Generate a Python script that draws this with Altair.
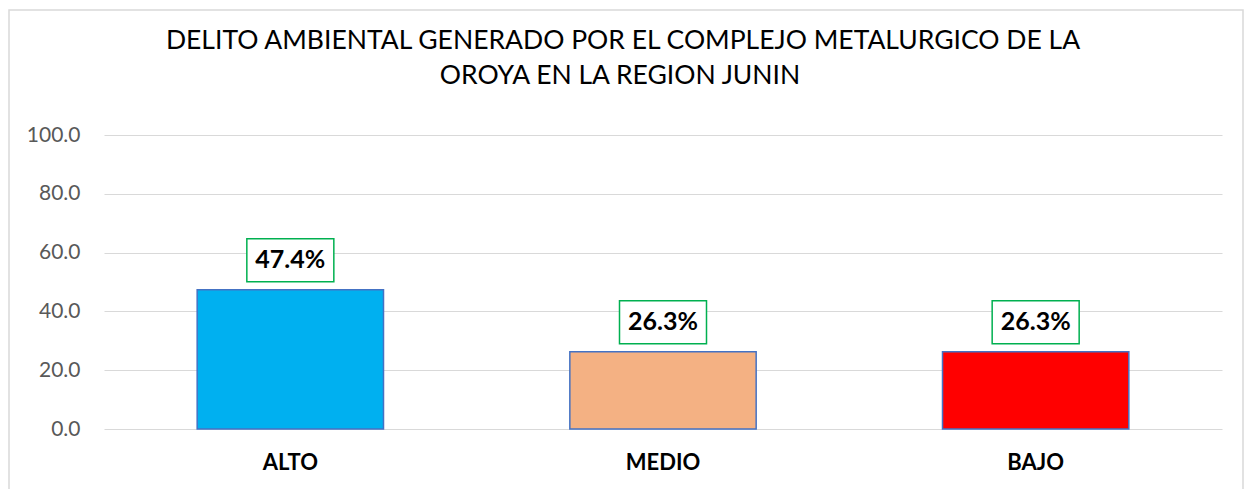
import altair as alt
import pandas as pd

categories = ["ALTO", "MEDIO", "BAJO"]
values = [47.4, 26.3, 26.3]
labels = ["47.4%", "26.3%", "26.3%"]
colors = ["#00B0F0", "#F4B183", "#FF0000"]
title_lines = ["DELITO AMBIENTAL GENERADO POR  EL COMPLEJO METALURGICO DE LA",
               "OROYA EN LA REGION JUNIN"]

df = pd.DataFrame({"cat": categories, "val": values, "lab": labels, "col": colors})

FONT = "Lato"

x_enc = alt.X("cat:N", sort=categories,
              scale=alt.Scale(paddingInner=0.5, paddingOuter=0.25),
              axis=alt.Axis(title=None, labelAngle=0, domain=False, ticks=False,
                            labelFontWeight="bold", labelFontSize=22, labelColor="#000000",
                            labelPadding=23, labelFont=FONT, grid=False))
y_enc = alt.Y("val:Q", scale=alt.Scale(domain=[0, 100]),
              axis=alt.Axis(title=None, values=[0, 20, 40, 60, 80, 100], format=".1f",
                            domain=False, ticks=False, labelFontSize=21, labelColor="#595959",
                            labelPadding=24, labelFont=FONT, gridColor="#D9D9D9", gridWidth=1))

base = alt.Chart(df)

bars = base.mark_bar(stroke="#4472C4", strokeWidth=1.5).encode(
    x=x_enc, y=y_enc,
    color=alt.Color("col:N", scale=None),
)

boxes = base.mark_point(
    shape="M-1,-0.494H1V0.494H-1Z", size=87 * 87, filled=True, fill="white",
    fillOpacity=1, opacity=1, stroke="#00B050", strokeWidth=1.5, yOffset=-29.5,
).encode(x=alt.X("cat:N", sort=categories), y="val:Q")

texts = base.mark_text(fontSize=25, fontWeight="bold", font=FONT, color="#000000",
                       baseline="middle", yOffset=-29.5).encode(
    x=alt.X("cat:N", sort=categories), y="val:Q", text="lab:N")

one = pd.DataFrame({"a": [0]})
frame = alt.Chart(one).mark_rect(
    fill=None, stroke="#D9D9D9", strokeWidth=1.5).encode(
    x=alt.value(-95), x2=alt.value(1139), y=alt.value(-125), y2=alt.value(420))

title1 = alt.Chart(one).mark_text(fontSize=26.5, font=FONT, color="#000000",
                                  baseline="middle", align="center").encode(
    x=alt.value(519), y=alt.value(-94), text=alt.value(title_lines[0]))
title2 = alt.Chart(one).mark_text(fontSize=26.5, font=FONT, color="#000000",
                                  baseline="middle", align="center").encode(
    x=alt.value(516), y=alt.value(-59), text=alt.value(title_lines[1]))

chart = alt.layer(frame, bars, boxes, texts, title1, title2).properties(
    width=1118, height=294,
    autosize=alt.AutoSizeParams(type="none"),
    padding={"left": 96, "top": 127, "right": 22, "bottom": 60},
).configure_view(stroke=None)

chart.save("out.html", embed_options={"renderer": "svg", "actions": False})
